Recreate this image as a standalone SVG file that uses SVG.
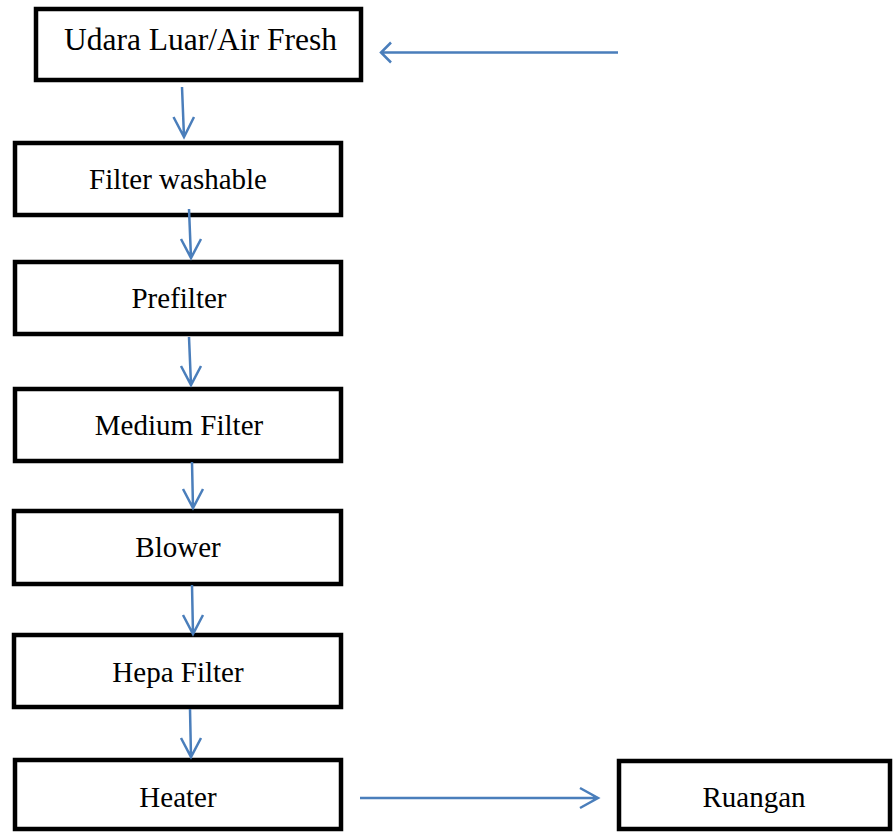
<svg xmlns="http://www.w3.org/2000/svg" width="893" height="832" viewBox="0 0 893 832">
<style>
.box{fill:#fff;stroke:#000;stroke-width:4.5}
.lbl{font-family:"Liberation Serif","Times New Roman",serif;font-size:29px;fill:#000;text-anchor:middle}
.con{fill:none;stroke:#4a7ebb;stroke-width:2.5}
</style>
<rect width="893" height="832" fill="#fff"/>
<g id="n-udara"><rect class="box" x="36" y="9" width="325" height="71"/><text class="lbl" x="200.5" y="50" style="font-size:31.5px">Udara Luar/Air Fresh</text></g>
<g id="n-washable"><rect class="box" x="15" y="143" width="326" height="72"/><text class="lbl" x="178" y="189">Filter washable</text></g>
<g id="n-prefilter"><rect class="box" x="15" y="262" width="326" height="72"/><text class="lbl" x="179" y="308">Prefilter</text></g>
<g id="n-medium"><rect class="box" x="15" y="389" width="326" height="72"/><text class="lbl" x="179" y="435">Medium Filter</text></g>
<g id="n-blower"><rect class="box" x="14" y="511" width="327" height="73"/><text class="lbl" x="178" y="557">Blower</text></g>
<g id="n-hepa"><rect class="box" x="14" y="635" width="327" height="72"/><text class="lbl" x="178" y="682">Hepa Filter</text></g>
<g id="n-heater"><rect class="box" x="15" y="760" width="326" height="69"/><text class="lbl" x="178" y="807">Heater</text></g>
<g id="n-ruangan"><rect class="box" x="619" y="761" width="271" height="68"/><text class="lbl" x="754" y="807">Ruangan</text></g>
<g id="connectors">
<path class="con" d="M618 52.5H381M391 42.5L381 52.5L391 62.5"/>
<path class="con" d="M182 87L184 137M173.5 117L184 137L194 117"/>
<path class="con" d="M189 209L191 258M181 239L191 258L201 239"/>
<path class="con" d="M189 337L191 385M181 366L191 385L201 366"/>
<path class="con" d="M192 462L193 508M183 489L193 508L203 489"/>
<path class="con" d="M192 585L193 634M183 615L193 634L203 615"/>
<path class="con" d="M190 709L191 757M181 738L191 757L201 738"/>
<path class="con" d="M360 798H598M580 788L598 798L580 808"/>
</g>
</svg>
